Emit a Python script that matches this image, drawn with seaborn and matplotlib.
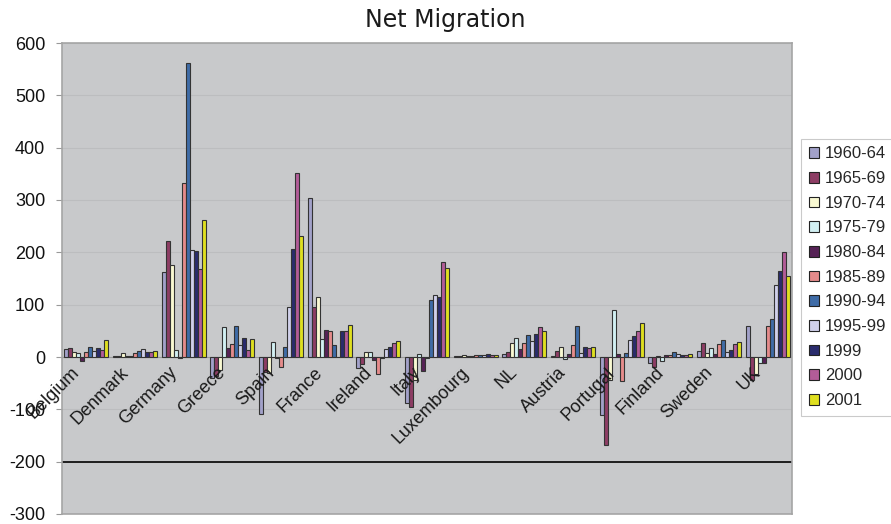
import numpy as np
import pandas as pd
import matplotlib
matplotlib.use("Agg")
import matplotlib.pyplot as plt
import seaborn as sns

countries = ['Belgium', 'Denmark', 'Germany', 'Greece', 'Spain', 'France', 'Ireland',
             'Italy', 'Luxembourg', 'NL', 'Austria', 'Portugal', 'Finland', 'Sweden', 'UK']
periods = ['1960-64', '1965-69', '1970-74', '1975-79', '1980-84', '1985-89',
           '1990-94', '1995-99', '1999', '2000', '2001']

v1960_64 = [15, 1, 163, -41, -108, 303, -21, -88, 2, 5, 1, -110, -11, 11, 60]
v1965_69 = [17, 1, 221, -36, -29, 96, -14, -95, 1, 10, 11, -169, -19, 26, -44]
v1970_74 = [10, 8, 175, -24, -31, 115, 10, -43, 4, 27, 20, -43, 1, 8, -32]
v1975_79 = [8, 2, 13, 57, 29, 34, 10, 6, 2, 36, -3, 89, -7, 17, -11]
v1980_84 = [-7, 1, -2, 17, -1, 52, -6, -27, 1, 15, 6, 5, 3, 6, -11]
v1985_89 = [9, 7, 332, 25, -19, 49, -33, -2, 3, 27, 22, -45, 3, 24, 60]
v1990_94 = [20, 11, 562, 59, 20, 23, -1, 109, 4, 42, 60, 8, 10, 33, 73]
v1995_99 = [11, 16, 204, 23, 96, 0, 15, 119, 4, 31, 8, 32, 5, 10, 138]
v1999 = [17, 10, 202, 36, 206, 49, 20, 115, 5, 44, 20, 40, 4, 14, 164]
v2000 = [13, 10, 168, 13, 352, 50, 27, 182, 3, 57, 17, 50, 3, 25, 200]
v2001 = [33, 12, 262, 35, 231, 61, 30, 170, 3, 50, 19, 65, 6, 29, 155]

series = [v1960_64, v1965_69, v1970_74, v1975_79, v1980_84, v1985_89,
          v1990_94, v1995_99, v1999, v2000, v2001]
colors = ['#9c9ad0', '#9a3064', '#ffffcc', '#ccf4f8', '#5e1a5e', '#f47c7c',
          '#2e6ab8', '#cccbef', '#1f2278', '#c04e9e', '#ffff00']

rows = []
for p, vals in zip(periods, series):
    for c, v in zip(countries, vals):
        rows.append({'country': c, 'period': p, 'value': v})
df = pd.DataFrame(rows)

sns.set_style("white")
plt.rcParams['font.family'] = ['Liberation Sans', 'DejaVu Sans']
plt.rcParams['axes.unicode_minus'] = False

fig = plt.figure(figsize=(8.91, 5.24), dpi=100)
ax = fig.add_axes([62/891, 1 - 514/524, (792-62)/891, (514-43)/524])
ax.set_facecolor('#c8c9cb')

sns.barplot(data=df, x='country', y='value', hue='period', order=countries,
            hue_order=periods, palette=colors, width=0.9, gap=0,
            edgecolor='#333333', linewidth=0.8, ax=ax, legend=True, zorder=3)

ax.set_ylim(-300, 600)
ax.set_xlim(-0.5, len(countries) - 0.5)
ax.set_yticks(np.arange(-300, 601, 100))
ax.yaxis.grid(True, color='#bcbdbf', linewidth=0.8, zorder=0)
ax.set_axisbelow(True)
ax.axhline(0, color='#9a9a9a', linewidth=0.8, zorder=2)
ax.axhline(-200, color='#111111', linewidth=1.3, zorder=2)

ax.tick_params(axis='y', labelsize=13, length=4, width=0.8, color='#999999',
               pad=8, labelcolor='#111111', direction='out', left=True)
ax.tick_params(axis='x', length=0, labelbottom=False)
ax.set_xlabel('')
ax.set_ylabel('')
for s in ax.spines.values():
    s.set_color('#a5a5a5')
    s.set_linewidth(1.2)

for i, name in enumerate(countries):
    ax.annotate(name, xy=(i, 0), xytext=(-11, -5), textcoords='offset points',
                rotation=45, ha='right', va='top', rotation_mode='anchor',
                fontsize=13, color='#1a1a1a', zorder=5)

fig.text(0.5, 1 - 20/524, 'Net Migration', ha='center', va='center',
         fontsize=17, family='DejaVu Sans', color='#1a1a1a')

leg = ax.legend(loc='upper left', bbox_to_anchor=(801/891, 1 - 139/524),
                bbox_transform=fig.transFigure, fontsize=12, frameon=True,
                fancybox=False, handlelength=0.6, handleheight=0.6,
                handletextpad=0.4, labelspacing=0.58, borderpad=0.45,
                borderaxespad=0, title=None)
leg.get_frame().set_edgecolor('#bdbdbd')
leg.get_frame().set_linewidth(0.8)
for h in leg.legend_handles:
    h.set_edgecolor('#222222')
    h.set_linewidth(0.8)

fig.savefig('out.png', dpi=100)
